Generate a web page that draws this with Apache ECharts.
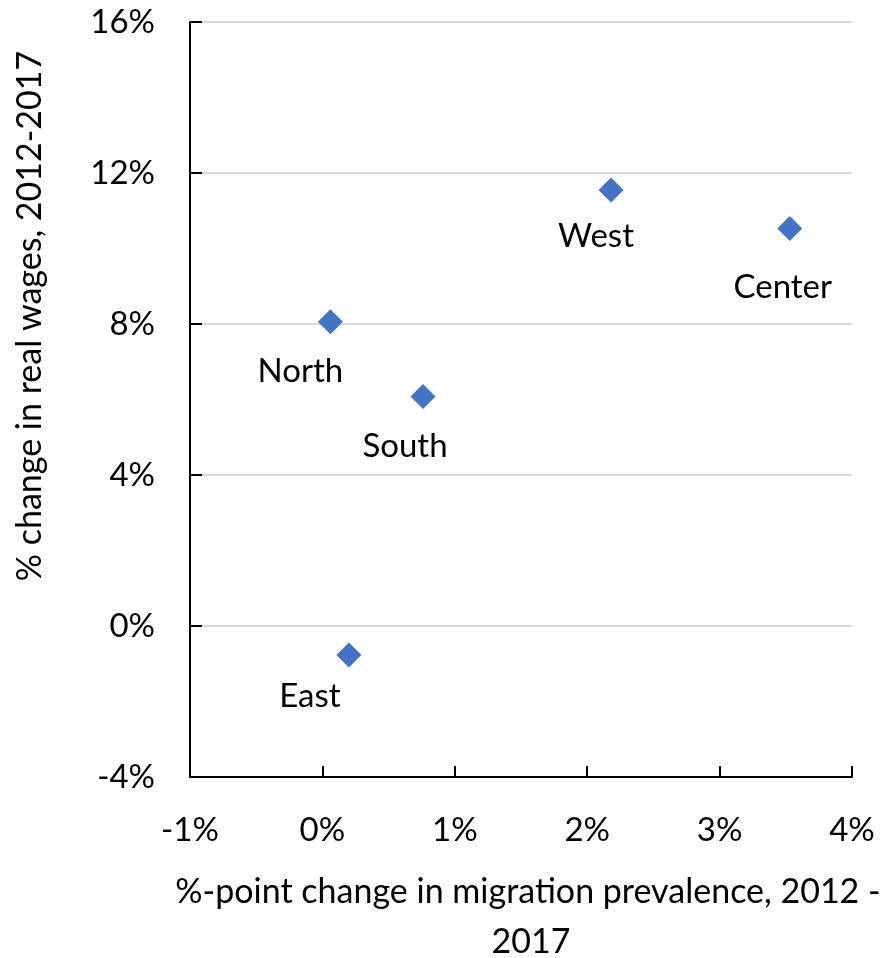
<!DOCTYPE html>
<html>
<head>
<meta charset="utf-8">
<script src="https://cdn.jsdelivr.net/npm/echarts@6/dist/echarts.min.js"></script>
<style>
html,body{margin:0;padding:0;background:#fff;}
#chart{width:889px;height:958px;}
</style>
</head>
<body>
<div id="chart"></div>
<script>
// Data (percent units)
var regions = ['North', 'South', 'East', 'West', 'Center'];
var migrationChange = [0.06, 0.76, 0.20, 2.18, 3.53];
var wageChange = [8.06, 6.08, -0.77, 11.55, 10.53];
var xTicks = [-1, 0, 1, 2, 3, 4];
var yTicks = [-4, 0, 4, 8, 12, 16];
var xTitleLines = ['%-point change in migration prevalence, 2012 -', '2017'];
var yTitle = '% change in real wages, 2012-2017';

// label placement (style, not data)
var labelOffsets = [[-30, 50], [-18, 50], [-39, 41], [-15, 46], [-7, 59]];

var FONT = 'Lato';
var FS = 33;
var TFS = 34;

var chart = echarts.init(document.getElementById('chart'), null, {renderer: 'canvas'});

var points = regions.map(function (r, i) {
  return {
    name: r,
    value: [migrationChange[i], wageChange[i]],
    label: {offset: labelOffsets[i]}
  };
});

chart.setOption({
  animation: false,
  backgroundColor: '#ffffff',
  grid: {left: 190, right: 37, top: 22, bottom: 181, containLabel: false},
  xAxis: {
    type: 'value',
    min: xTicks[0], max: xTicks[xTicks.length - 1], interval: 1,
    axisLine: {show: true, onZero: false, lineStyle: {color: '#000', width: 2}},
    axisTick: {show: true, inside: true, length: 11, lineStyle: {color: '#000', width: 2}},
    axisLabel: {
      formatter: '{value}%', color: '#000', fontFamily: FONT, fontSize: FS,
      margin: 36, lineHeight: 34
    },
    splitLine: {show: false}
  },
  yAxis: {
    type: 'value',
    min: yTicks[0], max: yTicks[yTicks.length - 1], interval: 4,
    axisLine: {show: true, onZero: false, lineStyle: {color: '#000', width: 2}},
    axisTick: {show: true, inside: true, length: 12, lineStyle: {color: '#000', width: 2}},
    axisLabel: {
      formatter: '{value}%', color: '#000', fontFamily: FONT, fontSize: FS,
      margin: 35
    },
    splitLine: {show: true, lineStyle: {color: '#d9d9d9', width: 2}}
  },
  series: [{
    type: 'scatter',
    symbol: 'diamond',
    symbolSize: 25,
    itemStyle: {color: '#4472C4', opacity: 1},
    label: {
      show: true,
      position: 'inside',
      formatter: '{b}',
      color: '#000',
      fontFamily: FONT,
      fontSize: FS
    },
    data: points
  }],
  graphic: [
    {
      type: 'text',
      x: 30, y: 316,
      rotation: Math.PI / 2,
      style: {
        text: yTitle, fill: '#000', font: TFS + 'px ' + FONT,
        textAlign: 'center', textVerticalAlign: 'middle'
      }
    },
    {
      type: 'text',
      x: 528, y: 892,
      style: {
        text: xTitleLines[0], fill: '#000', font: TFS + 'px ' + FONT,
        textAlign: 'center', textVerticalAlign: 'middle'
      }
    },
    {
      type: 'text',
      x: 531, y: 942,
      style: {
        text: xTitleLines[1], fill: '#000', font: TFS + 'px ' + FONT,
        textAlign: 'center', textVerticalAlign: 'middle'
      }
    }
  ]
});
</script>
</body>
</html>
